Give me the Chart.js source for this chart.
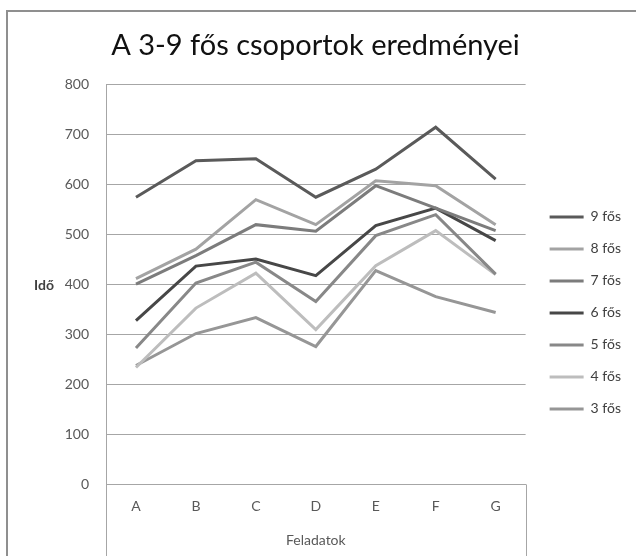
<!DOCTYPE html>
<html>
<head>
<meta charset="utf-8">
<script src="https://cdn.jsdelivr.net/npm/chart.js@4"></script>
<style>
  html, body { margin: 0; padding: 0; background: #fff; }
  #wrap { width: 636px; height: 556px; }
</style>
</head>
<body>
<div id="wrap"><canvas id="c" width="636" height="556"></canvas></div>
<script>
const chartTitle = 'A 3-9 fős csoportok eredményei';
const xTitle = 'Feladatok';
const yTitle = 'Idő';
const categories = ['A', 'B', 'C', 'D', 'E', 'F', 'G'];
const seriesNames = ['9 fős', '8 fős', '7 fős', '6 fős', '5 fős', '4 fős', '3 fős'];
const s9 = [575, 648, 652, 575, 631, 715, 611];
const s8 = [412, 471, 570, 520, 608, 598, 520];
const s7 = [401, 458, 520, 507, 598, 553, 508];
const s6 = [328, 437, 451, 418, 518, 553, 488];
const s5 = [273, 403, 445, 366, 498, 540, 421];
const s4 = [234, 353, 423, 310, 438, 508, 420];
const s3 = [238, 302, 334, 276, 428, 376, 344];
const seriesColors = ['#5a5a5a', '#a3a3a3', '#7c7c7c', '#474747', '#888888', '#bdbdbd', '#969696'];
const yMin = 0, yMax = 800, yStep = 100;

const allSeries = [s9, s8, s7, s6, s5, s4, s3];
const FONT = 'Lato, "Open Sans", sans-serif';

const decor = {
  id: 'decor',
  beforeDraw(chart) {
    const ctx = chart.ctx;
    ctx.save();
    ctx.fillStyle = '#fff';
    ctx.fillRect(0, 0, chart.width, chart.height);
    ctx.strokeStyle = '#8f8f8f';
    ctx.lineWidth = 2;
    ctx.strokeRect(7, 11, chart.width + 40, chart.height + 40);
    ctx.restore();
  },
  afterDraw(chart) {
    const ctx = chart.ctx, a = chart.chartArea;
    ctx.save();
    ctx.strokeStyle = '#a6a6a6';
    ctx.lineWidth = 1;
    ctx.beginPath();
    ctx.moveTo(Math.round(a.left) + 0.5, a.bottom);
    ctx.lineTo(Math.round(a.left) + 0.5, chart.height);
    ctx.moveTo(Math.round(a.right) + 0.5, a.bottom);
    ctx.lineTo(Math.round(a.right) + 0.5, chart.height);
    ctx.stroke();
    ctx.font = 'bold 14px ' + FONT;
    ctx.fillStyle = '#404040';
    ctx.textAlign = 'center';
    ctx.textBaseline = 'middle';
    ctx.fillText(yTitle, 44, (a.top + a.bottom) / 2 + 1);
    ctx.restore();
  }
};

new Chart(document.getElementById('c'), {
  type: 'line',
  data: {
    labels: categories,
    datasets: seriesNames.map((name, i) => ({
      label: name,
      data: allSeries[i],
      borderColor: seriesColors[i],
      backgroundColor: seriesColors[i],
      borderWidth: 3,
      pointRadius: 0,
      tension: 0,
      fill: false,
      yAxisID: 'y'
    }))
  },
  options: {
    responsive: false,
    animation: false,
    layout: { padding: { left: 0, right: 5, top: 0, bottom: 7 } },
    plugins: {
      title: {
        display: true,
        text: chartTitle,
        color: '#111',
        font: { family: FONT, size: 29, weight: 'normal' },
        padding: { top: 28, bottom: 22 }
      },
      legend: {
        position: 'right',
        title: { display: true, text: ' ', font: { family: FONT, size: 14 }, padding: { top: 30, bottom: 30 } },
        labels: {
          usePointStyle: true,
          pointStyle: 'line',
          pointStyleWidth: 34,
          color: '#404040',
          font: { family: FONT, size: 14 },
          padding: 18
        }
      },
      tooltip: { enabled: false }
    },
    scales: {
      x: {
        offset: true,
        grid: { display: false, drawTicks: false },
        border: { display: true, color: '#a6a6a6' },
        ticks: { color: '#595959', font: { family: FONT, size: 14 }, padding: 14 },
        title: { display: true, text: xTitle, color: '#595959', font: { family: FONT, size: 14 }, padding: { top: 3, bottom: 0 } }
      },
      y: {
        min: yMin, max: yMax,
        afterFit(scale) { scale.width = 106; },
        grid: { color: '#a6a6a6', lineWidth: 1, drawTicks: false },
        border: { display: true, color: '#a6a6a6' },
        ticks: { stepSize: yStep, color: '#595959', font: { family: FONT, size: 14 }, padding: 17 }
      },
      gap: {
        type: 'linear',
        position: 'right',
        display: true,
        afterFit(scale) { scale.width = 6; },
        grid: { display: false, drawTicks: false },
        border: { display: false },
        ticks: { display: false }
      }
    }
  },
  plugins: [decor]
});
</script>
</body>
</html>
